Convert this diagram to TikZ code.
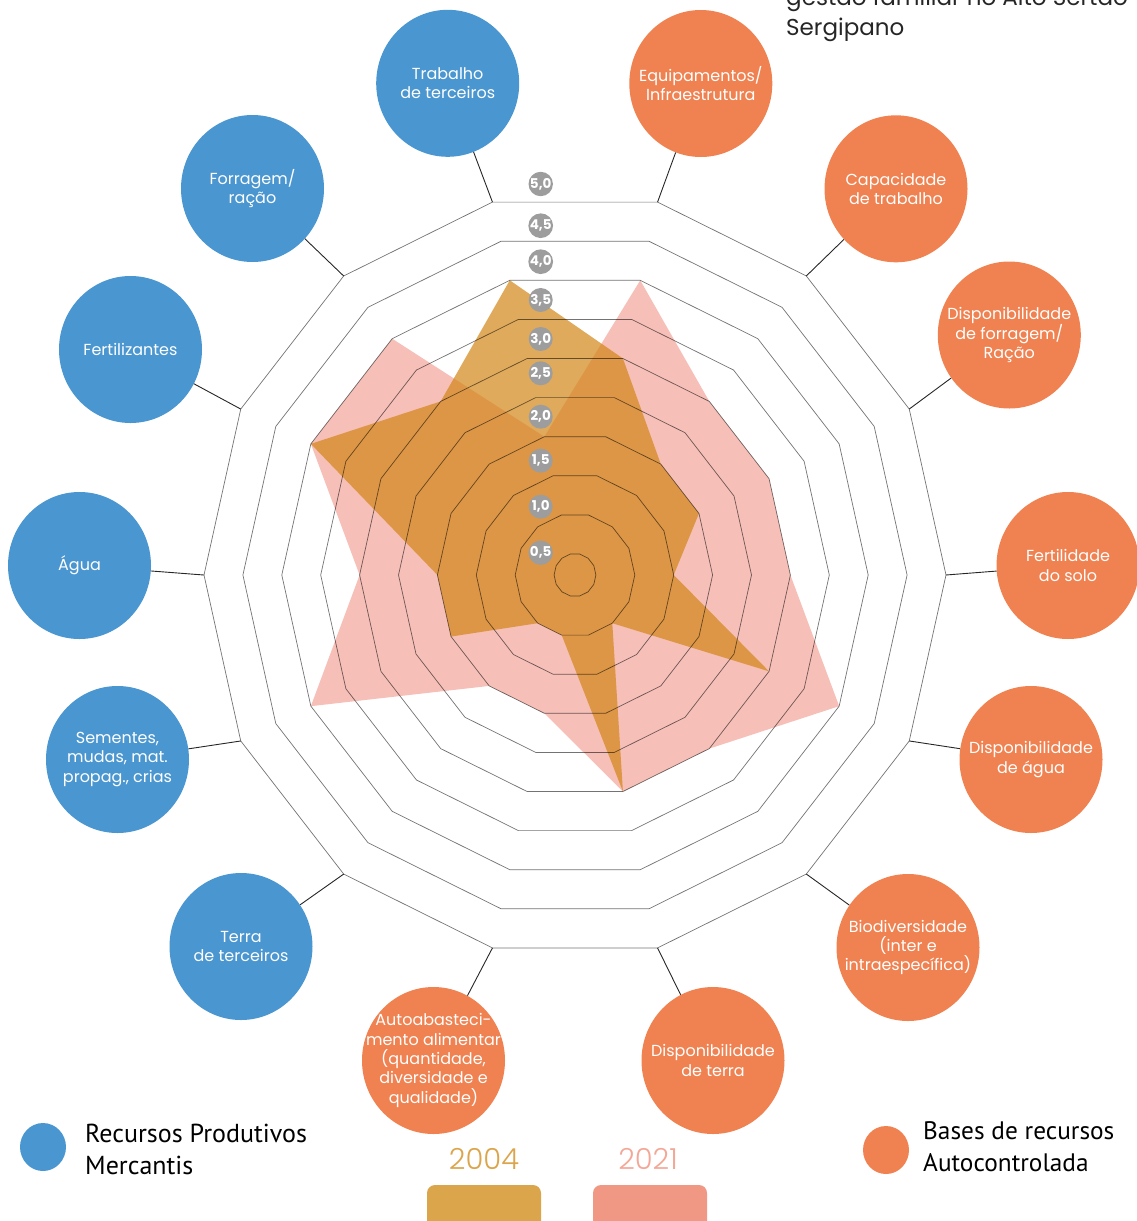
\documentclass[tikz,border=0pt]{standalone}
\usepackage{fontspec}
\setmainfont{Poppins}
\newfontfamily\legendfont{PT Sans}
\IfFontExistsTF{Poppins Light}{\newfontfamily\yearfont{Poppins Light}}{\newfontfamily\yearfont{Poppins}}
\usetikzlibrary{shapes.geometric}

\definecolor{mercblue}{HTML}{4A96D0}
\definecolor{autoorange}{HTML}{F08150}
\definecolor{goldleg}{HTML}{DBA54B}
\definecolor{pinkleg}{HTML}{F19885}
\definecolor{gold04}{RGB}{210,134,22}
\definecolor{pink21}{HTML}{F6BFB8}
\definecolor{labelgray}{HTML}{9D9D9D}

\tikzset{
	recurso/.style={ellipse, minimum width=143pt, minimum height=147pt, inner sep=-25pt,
		text=white, align=center, font=\fontsize{16}{19.4}\selectfont},
	merc/.style={recurso, fill=mercblue},
	autoc/.style={recurso, fill=autoorange},
	ring/.style={draw=black, draw opacity=0.55, line width=0.7pt},
	spoke/.style={draw=black!85, line width=0.9pt},
	valor/.style={circle, fill=labelgray, minimum size=24pt, inner sep=0pt,
		text=white, font=\fontsize{13.5}{13.5}\selectfont\bfseries},
}

\begin{document}
\begin{tikzpicture}[x=1pt, y=-1pt, declare function={vrad(\v)=77.8*\v-18;}]
		\useasboundingbox (0,0) rectangle (1137,1221);

		% Radar
		\begin{scope}[shift={(575,575)}, yscale=-1.031]
		\fill[pink21] (102.857:{vrad(2)})
			\foreach \v [count=\k] in {4,3,3,3,4,3,3,2,2,4,3,4,4}{ -- ({102.857-25.714*\k}:{vrad(\v)}) } -- cycle;
		\fill[gold04, fill opacity=0.7] (102.857:{vrad(4)})
			\foreach \v [count=\k] in {3,2,2,1.5,3,1,3,1,1,2,2,4,3}{ -- ({102.857-25.714*\k}:{vrad(\v)}) } -- cycle;
		\foreach \r in {1,...,10}
			\draw[ring] (0:{38.9*\r-18}) \foreach \j in {1,...,13}{ -- ({\j*360/14}:{38.9*\r-18}) } -- cycle;
		\foreach \k in {0,...,13}
			\coordinate (v\k) at ({102.857-25.714*\k}:{vrad(5)});
		\end{scope}

		% Define nodes
		\node[merc]  (trab)   at (447.7,83.3)   {Trabalho\\de terceiros};
		\node[autoc] (equip)  at (700.8,83.5)   {Equipamentos/\\Infraestrutura};
		\node[autoc] (capac)  at (896,188.8)    {Capacidade\\de trabalho};
		\node[autoc] (dforr)  at (1009.3,335)   {Disponibilidade\\de forragem/\\Ração};
		\node[autoc] (fert)   at (1068,565.5)   {Fertilidade\\do solo};
		\node[autoc] (dagua)  at (1031,759.5)   {Disponibilidade\\de água};
		\node[autoc] (biod)   at (908,947.5)    {Biodiversidade\\(inter e\\intraespecífica)};
		\node[autoc] (dterra) at (713,1060.5)   {Disponibilidade\\de terra};
		\node[autoc] (autoab) at (433.5,1060.5) {Autoabasteci-\\mento alimentar\\(quantidade,\\diversidade e\\qualidade)};
		\node[merc]  (terra)  at (241,946.5)    {Terra\\de terceiros};
		\node[merc]  (sem)    at (117.5,759.5)  {Sementes,\\mudas, mat.\\propag., crias};
		\node[merc]  (agua)   at (79.5,565.5)   {Água};
		\node[merc]  (fertz)  at (130.5,349.5)  {Fertilizantes};
		\node[merc]  (forr)   at (252.5,188.5)  {Forragem/\\ração};

		\foreach \k/\n in {0/trab,1/equip,2/capac,3/dforr,4/fert,5/dagua,6/biod,
				7/dterra,8/autoab,9/terra,10/sem,11/agua,12/fertz,13/forr}
			\draw[spoke] (v\k) -- (\n);

		% Scale labels
		\foreach \y/\a/\b in {184/5/0,225.7/4/5,261.7/4/0,300/3/5,339/3/0,
				373.3/2/5,416.7/2/0,460.7/1/5,506.7/1/0,552.7/0/5}
			\node[valor] (val\a\b) at (540.7,\y) {\a,\b};

		% Title (cut at the top)
		\node[anchor=base west, inner sep=0pt, text=black!85, font=\fontsize{23}{30}\selectfont]
			(tit1) at (786,5.5) {gestão familiar no Alto Sertão};
		\node[anchor=base west, inner sep=0pt, text=black!85, font=\fontsize{23}{30}\selectfont]
			(tit2) at (786,35.7) {Sergipano};

		% Legend
		\node[ellipse, fill=mercblue, minimum width=46pt, minimum height=48pt] (legmerc) at (43,1147) {};
		\node[anchor=west, inner sep=0pt, align=left, font=\legendfont\fontsize{26}{32}\selectfont]
			(legmerctxt) at (85,1149) {Recursos Produtivos\\Mercantis};
		\node[ellipse, fill=autoorange, minimum width=46pt, minimum height=48pt] (legauto) at (886,1150) {};
		\node[anchor=west, inner sep=0pt, align=left, font=\legendfont\fontsize{25.3}{32}\selectfont]
			(legautotxt) at (923,1146.5) {Bases de recursos\\Autocontrolada};

		\node[text=goldleg, font=\yearfont\fontsize{29}{29}\selectfont] (ano04) at (484,1159) {2004};
		\node[text=pinkleg!85, font=\yearfont\fontsize{29}{29}\selectfont] (ano21) at (648,1159) {2021};
		\node[fill=goldleg, rounded corners=8pt, minimum width=114pt, minimum height=44pt] (box04) at (484,1207) {};
		\node[fill=pinkleg, rounded corners=8pt, minimum width=114pt, minimum height=44pt] (box21) at (650,1207) {};
	\end{tikzpicture}
\end{document}
